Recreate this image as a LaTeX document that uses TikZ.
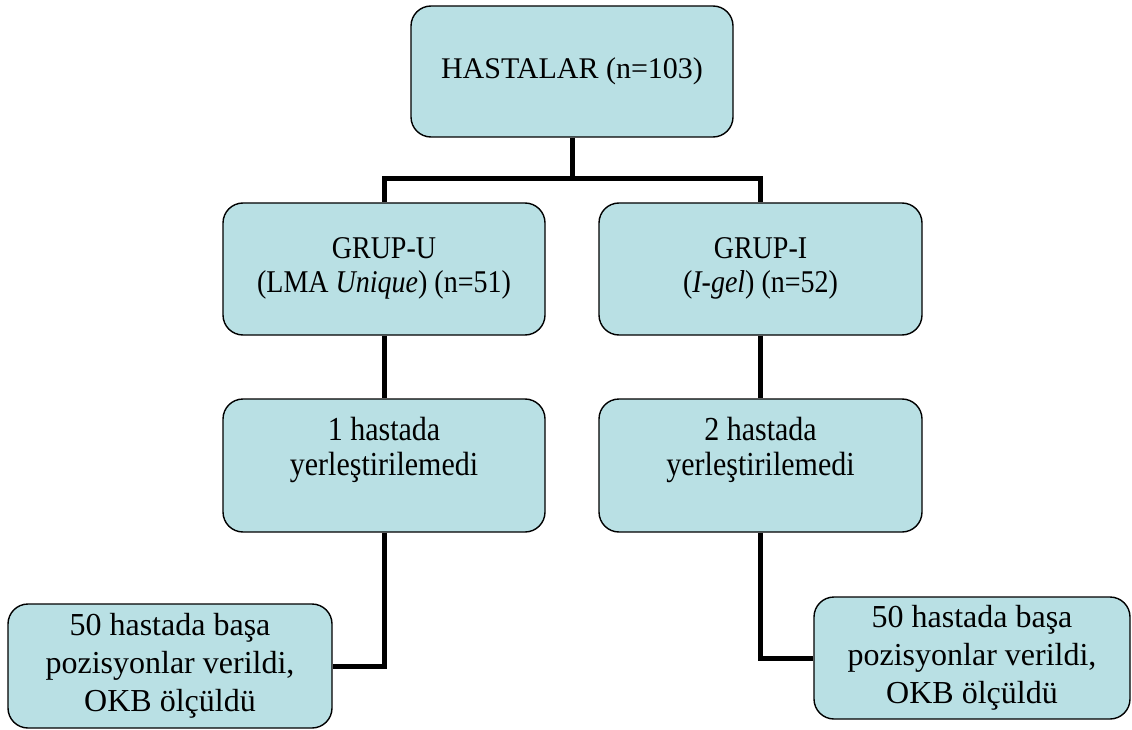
\documentclass[tikz,border=0pt]{standalone}
\usepackage{fontspec}
\setmainfont{Liberation Serif}
\usetikzlibrary{backgrounds}
\definecolor{boxfill}{RGB}{185,224,228}
\tikzset{
  box/.style={draw=black, line width=1.4pt, fill=boxfill, rounded corners=20pt,
    inner sep=0pt, align=center, text=black},
  conn/.style={draw=black, line width=5pt, line cap=butt, line join=miter},
}
\newcommand{\tallstack}[2][1.12]{\scalebox{1}[#1]{\begin{tabular}{@{}c@{}}#2\end{tabular}}}
\begin{document}
\begin{tikzpicture}[x=1pt,y=-1pt]
\useasboundingbox (0,0) rectangle (1132,730);
% top
\node[box, minimum width=322pt, minimum height=131pt, font=\fontsize{30}{36}\selectfont]
  (top) at (572,71.5) {HASTALAR (n=103)};
% groups
\node[box, minimum width=322pt, minimum height=132pt, font=\fontsize{28}{30}\selectfont]
  (gu) at (384,269) {\tallstack[1.13]{GRUP-U\\(LMA \textit{Unique}) (n=51)}};
\node[box, minimum width=323pt, minimum height=132pt, font=\fontsize{28}{30}\selectfont]
  (gi) at (760.5,269) {\tallstack[1.13]{GRUP-I\\(\textit{I-gel}) (n=52)}};
% row 2
\node[box, minimum width=322pt, minimum height=133pt, font=\fontsize{30}{31}\selectfont]
  (lu) at (384,465.5) {\parbox[c][133pt][t]{320pt}{\centering\vspace*{17pt}\tallstack{1 hastada\\yerleştirilemedi}}};
\node[box, minimum width=323pt, minimum height=133pt, font=\fontsize{30}{31}\selectfont]
  (li) at (760.5,465.5) {\parbox[c][133pt][t]{320pt}{\centering\vspace*{17pt}\tallstack{2 hastada\\yerleştirilemedi}}};
% bottom
\node[box, minimum width=324pt, minimum height=124pt, font=\fontsize{32}{38}\selectfont]
  (bl) at (170,666) {50 hastada başa\\pozisyonlar verildi,\\OKB ölçüldü};
\node[box, minimum width=316pt, minimum height=122pt, font=\fontsize{32}{38}\selectfont]
  (br) at (972,658) {50 hastada başa\\pozisyonlar verildi,\\OKB ölçüldü};
\coordinate (bus) at (572,179);
\begin{scope}[on background layer]
  \draw[conn] (top.south) -- (bus);
  \draw[conn] (gu.north) |- (bus) -| (gi.north);
  \draw[conn] (gu.south) -- (lu.north);
  \draw[conn] (gi.south) -- (li.north);
  \draw[conn] (lu.south) |- (bl.east);
  \draw[conn] (li.south) |- (br.west);
\end{scope}
\end{tikzpicture}
\end{document}
